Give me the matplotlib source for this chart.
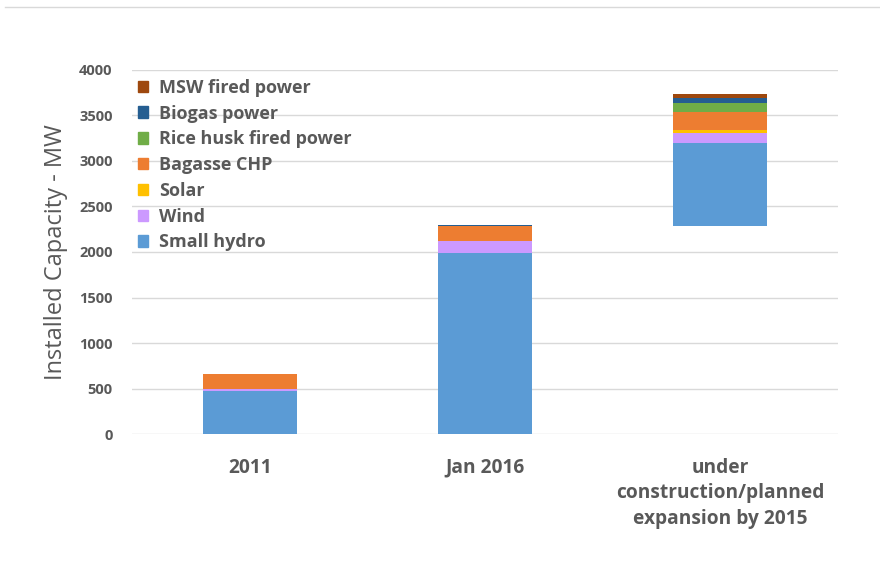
import numpy as np
import matplotlib
matplotlib.use('Agg')
import matplotlib.pyplot as plt
from matplotlib.patches import Patch

plt.rcParams['font.family'] = ['Open Sans', 'DejaVu Sans']

# %% data
categories = ['2011', 'Jan 2016', 'under\nconstruction/planned\nexpansion by 2015']
base = [0, 0, 2280]  # third bar floats on top of the Jan 2016 total
series = ['Small hydro', 'Wind', 'Solar', 'Bagasse CHP',
          'Rice husk fired power', 'Biogas power', 'MSW fired power']
small_hydro = [470, 1990, 919]
wind = [26, 133, 110]
solar = [0, 0, 26]
bagasse = [160, 158, 201]
rice_husk = [0, 0, 96]
biogas = [0, 14, 63]
msw = [0, 0, 36]
colors = ['#5B9BD5', '#CC99FF', '#FFC000', '#ED7D31', '#70AD47', '#255E91', '#9E480E']

# %% plot
fig = plt.figure(figsize=(8.8, 5.72), dpi=100)
ax = fig.add_axes([0.15, 0.241, 0.802, 0.637])

x = np.arange(len(categories))
bottom = np.array(base, dtype=float)
values = [small_hydro, wind, solar, bagasse, rice_husk, biogas, msw]
for name, vals, col in zip(series, values, colors):
    ax.bar(x, vals, 0.4, bottom=bottom, color=col, label=name, zorder=3)
    bottom = bottom + np.array(vals)

ax.set_xlim(-0.5, 2.5)
ax.set_ylim(0, 4000)
ax.set_yticks(np.arange(0, 4001, 500))
ax.yaxis.grid(True, color='#D9D9D9', linewidth=1)
for s in ax.spines.values():
    s.set_visible(False)
ax.tick_params(axis='both', length=0, colors='#595959')
ax.tick_params(axis='y', pad=14, labelsize=10.5)
ax.tick_params(axis='x', pad=17, labelsize=13.8)
ax.set_xticks(x)
ax.set_xticklabels(categories, fontweight='bold', linespacing=1.38)
for lab in ax.get_yticklabels():
    lab.set_fontweight('bold')
ax.set_ylabel('Installed Capacity - MW', fontsize=17, color='#595959', labelpad=8)

handles = [Patch(color=c) for c in colors][::-1]
leg = ax.legend(handles, series[::-1], loc='upper left', bbox_to_anchor=(-0.01, 1.01),
                frameon=False, prop={'weight': 'bold', 'size': 13},
                handlelength=0.6, handleheight=0.6, handletextpad=0.6,
                labelspacing=0.43, borderaxespad=0.3)
for t in leg.get_texts():
    t.set_color('#595959')

fig.add_artist(plt.Line2D([0.006, 1.0], [0.988, 0.988], color='#D9D9D9', linewidth=1))

fig.savefig('out.png', dpi=100)
